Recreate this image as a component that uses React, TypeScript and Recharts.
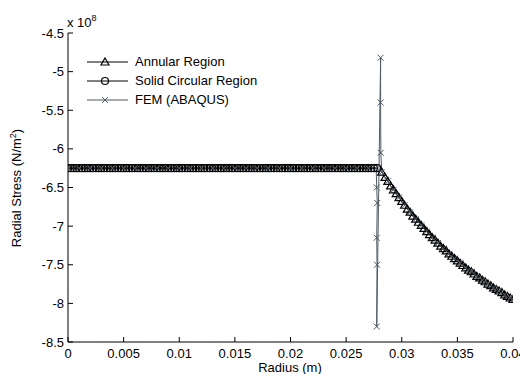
import { LineChart, Line, XAxis, YAxis, Legend } from 'recharts'

const FONT = '"Liberation Sans", Arial, sans-serif'

const X_TICKS = [0, 0.005, 0.01, 0.015, 0.02, 0.025, 0.03, 0.035, 0.04]
const X_TICK_LABELS = ['0', '0.005', '0.01', '0.015', '0.02', '0.025', '0.03', '0.035', '0.04']
const Y_TICKS = [-8.5, -8, -7.5, -7, -6.5, -6, -5.5, -5, -4.5]
const Y_TICK_LABELS = ['-8.5', '-8', '-7.5', '-7', '-6.5', '-6', '-5.5', '-5', '-4.5']

// stresses are in units of 1e8 N/m^2
const solidRadius = [
  0, 0.00025, 0.0005, 0.00075, 0.001, 0.00125, 0.0015, 0.00175, 0.002, 0.00225,
  0.0025, 0.00275, 0.003, 0.00325, 0.0035, 0.00375, 0.004, 0.00425, 0.0045, 0.00475,
  0.005, 0.00525, 0.0055, 0.00575, 0.006, 0.00625, 0.0065, 0.00675, 0.007, 0.00725,
  0.0075, 0.00775, 0.008, 0.00825, 0.0085, 0.00875, 0.009, 0.00925, 0.0095, 0.00975,
  0.01, 0.01025, 0.0105, 0.01075, 0.011, 0.01125, 0.0115, 0.01175, 0.012, 0.01225,
  0.0125, 0.01275, 0.013, 0.01325, 0.0135, 0.01375, 0.014, 0.01425, 0.0145, 0.01475,
  0.015, 0.01525, 0.0155, 0.01575, 0.016, 0.01625, 0.0165, 0.01675, 0.017, 0.01725,
  0.0175, 0.01775, 0.018, 0.01825, 0.0185, 0.01875, 0.019, 0.01925, 0.0195, 0.01975,
  0.02, 0.02025, 0.0205, 0.02075, 0.021, 0.02125, 0.0215, 0.02175, 0.022, 0.02225,
  0.0225, 0.02275, 0.023, 0.02325, 0.0235, 0.02375, 0.024, 0.02425, 0.0245, 0.02475,
  0.025, 0.02525, 0.0255, 0.02575, 0.026, 0.02625, 0.0265, 0.02675, 0.027, 0.02725,
  0.0275, 0.0278,
]
const solidStress = [
  -6.25, -6.25, -6.25, -6.25, -6.25, -6.25, -6.25, -6.25, -6.25, -6.25,
  -6.25, -6.25, -6.25, -6.25, -6.25, -6.25, -6.25, -6.25, -6.25, -6.25,
  -6.25, -6.25, -6.25, -6.25, -6.25, -6.25, -6.25, -6.25, -6.25, -6.25,
  -6.25, -6.25, -6.25, -6.25, -6.25, -6.25, -6.25, -6.25, -6.25, -6.25,
  -6.25, -6.25, -6.25, -6.25, -6.25, -6.25, -6.25, -6.25, -6.25, -6.25,
  -6.25, -6.25, -6.25, -6.25, -6.25, -6.25, -6.25, -6.25, -6.25, -6.25,
  -6.25, -6.25, -6.25, -6.25, -6.25, -6.25, -6.25, -6.25, -6.25, -6.25,
  -6.25, -6.25, -6.25, -6.25, -6.25, -6.25, -6.25, -6.25, -6.25, -6.25,
  -6.25, -6.25, -6.25, -6.25, -6.25, -6.25, -6.25, -6.25, -6.25, -6.25,
  -6.25, -6.25, -6.25, -6.25, -6.25, -6.25, -6.25, -6.25, -6.25, -6.25,
  -6.25, -6.25, -6.25, -6.25, -6.25, -6.25, -6.25, -6.25, -6.25, -6.25,
  -6.25, -6.25,
]

const annularRadius = [
  0.0282, 0.0285, 0.02875, 0.029, 0.02925, 0.0295, 0.02975, 0.03, 0.03025, 0.0305,
  0.03075, 0.031, 0.03125, 0.0315, 0.03175, 0.032, 0.03225, 0.0325, 0.03275, 0.033,
  0.03325, 0.0335, 0.03375, 0.034, 0.03425, 0.0345, 0.03475, 0.035, 0.03525, 0.0355,
  0.03575, 0.036, 0.03625, 0.0365, 0.03675, 0.037, 0.03725, 0.0375, 0.03775, 0.038,
  0.03825, 0.0385, 0.03875, 0.039, 0.03925, 0.0395, 0.03975, 0.04,
]
const annularStress = [
  -6.3, -6.37, -6.42, -6.48, -6.53, -6.58, -6.63, -6.68, -6.73, -6.78,
  -6.82, -6.87, -6.91, -6.95, -6.99, -7.03, -7.07, -7.11, -7.15, -7.18,
  -7.22, -7.26, -7.29, -7.32, -7.36, -7.39, -7.42, -7.45, -7.48, -7.51,
  -7.54, -7.57, -7.59, -7.62, -7.65, -7.67, -7.7, -7.72, -7.75, -7.77,
  -7.8, -7.82, -7.84, -7.86, -7.89, -7.91, -7.93, -7.95,
]

const femRadius = [
  0, 0.001, 0.002, 0.003, 0.004, 0.005, 0.006, 0.007, 0.008, 0.009, 0.01, 0.011, 0.012, 0.013,
  0.014, 0.015, 0.016, 0.017, 0.018, 0.019, 0.02, 0.021, 0.022, 0.023, 0.024, 0.025, 0.026, 0.027,
  0.0277, 0.02775, 0.0278, 0.02775, 0.02778, 0.02775, 0.0281, 0.0281, 0.02812, 0.0282,
  0.02875, 0.02925, 0.02975, 0.03025, 0.03075, 0.03125, 0.03175, 0.03225, 0.03275, 0.03325,
  0.03375, 0.03425, 0.03475, 0.03525, 0.03575, 0.03625, 0.03675, 0.03725, 0.03775, 0.03825,
  0.03875, 0.03925, 0.03975, 0.04,
]
const femStress = [
  -6.25, -6.25, -6.25, -6.25, -6.25, -6.25, -6.25, -6.25, -6.25, -6.25, -6.25, -6.25, -6.25, -6.25,
  -6.25, -6.25, -6.25, -6.25, -6.25, -6.25, -6.25, -6.25, -6.25, -6.25, -6.25, -6.25, -6.25, -6.25,
  -6.25, -6.5, -6.7, -7.15, -7.5, -8.3, -4.82, -5.4, -6.05, -6.3,
  -6.42, -6.53, -6.63, -6.73, -6.82, -6.91, -6.99, -7.07, -7.15, -7.22,
  -7.29, -7.36, -7.42, -7.48, -7.54, -7.59, -7.65, -7.7, -7.75, -7.8,
  -7.84, -7.89, -7.93, -7.95,
]

const SERIES_NAMES = ['Annular Region', 'Solid Circular Region', 'FEM (ABAQUS)']

const toRows = (rs: number[], ss: number[]) => rs.map((r, i) => ({ r, s: ss[i] }))
const annularData = toRows(annularRadius, annularStress)
const solidData = toRows(solidRadius, solidStress)
const femData = toRows(femRadius, femStress)

const FEM_COLOR = '#4f5a63'

const triangle = (cx: number, cy: number, k: string, c = '#000') => (
  <path key={k} d={`M${cx},${cy - 4}L${cx + 4},${cy + 3}L${cx - 4},${cy + 3}Z`} fill="none" stroke={c} strokeWidth={1.2} />
)
const circle = (cx: number, cy: number, k: string, c = '#000') => (
  <circle key={k} cx={cx} cy={cy} r={3.5} fill="none" stroke={c} strokeWidth={1.2} />
)
const cross = (cx: number, cy: number, k: string, c = FEM_COLOR) => (
  <path key={k} d={`M${cx - 3},${cy - 3}L${cx + 3},${cy + 3}M${cx - 3},${cy + 3}L${cx + 3},${cy - 3}`} stroke={c} strokeWidth={1} />
)
const markers = [triangle, circle, cross]

function BottomTick({ x, y, payload }: any) {
  const label = X_TICK_LABELS[X_TICKS.indexOf(payload.value)]
  return (
    <g>
      <line x1={x} x2={x} y1={y} y2={y - 5} stroke="#000" />
      <text x={x} y={y + 16} textAnchor="middle" fontSize={13} fill="#000" fontFamily={FONT}>{label}</text>
    </g>
  )
}

function TopTick({ x, y }: any) {
  return <line x1={x} x2={x} y1={y} y2={y + 5} stroke="#000" />
}

function LeftTick({ x, y, payload }: any) {
  const label = Y_TICK_LABELS[Y_TICKS.indexOf(payload.value)]
  return (
    <g>
      <line x1={x} x2={x + 5} y1={y} y2={y} stroke="#000" />
      <text x={x - 4} y={y + 4.5} textAnchor="end" fontSize={13} fill="#000" fontFamily={FONT}>{label}</text>
    </g>
  )
}

function RightTick({ x, y }: any) {
  return <line x1={x} x2={x - 5} y1={y} y2={y} stroke="#000" />
}

// legend rows in the series order of the original figure
function LegendBox() {
  return (
    <div style={{ fontFamily: FONT, fontSize: 13, color: '#000' }}>
      {SERIES_NAMES.map((name, i) => (
        <div key={name} style={{ display: 'flex', alignItems: 'center', height: 19 }}>
          <svg width={50} height={12}>
            <line x1={2} x2={43} y1={6} y2={6} stroke={i === 2 ? FEM_COLOR : '#000'} />
            {markers[i](20, 6, 'm')}
          </svg>
          <span>{name}</span>
        </div>
      ))}
    </div>
  )
}

// the wrapper cancels the body margin so the figure fills the 528x382 page exactly
export default function App() {
  return (
    <div style={{ position: 'relative', width: 528, height: 382, margin: -8, fontFamily: FONT, background: '#fff' }}>
      <LineChart width={528} height={382} margin={{ top: 33, right: 15, bottom: 0, left: 0 }}>
        <XAxis dataKey="r" type="number" domain={[0, 0.04]} ticks={X_TICKS} interval={0} height={40}
          tickSize={0} tickMargin={0} tickLine={false} tick={<BottomTick />} axisLine={{ stroke: '#000' }} allowDataOverflow />
        <XAxis xAxisId="top" orientation="top" dataKey="r" type="number" domain={[0, 0.04]} ticks={X_TICKS} interval={0} height={0}
          tickSize={0} tickMargin={0} tickLine={false} tick={<TopTick />} axisLine={{ stroke: '#000' }} allowDataOverflow />
        <YAxis type="number" domain={[-8.5, -4.5]} ticks={Y_TICKS} interval={0} width={68}
          tickSize={0} tickMargin={0} tickLine={false} tick={<LeftTick />} axisLine={{ stroke: '#000' }} allowDataOverflow />
        <YAxis yAxisId="right" orientation="right" type="number" domain={[-8.5, -4.5]} ticks={Y_TICKS} interval={0} width={0}
          tickSize={0} tickMargin={0} tickLine={false} tick={<RightTick />} axisLine={{ stroke: '#000' }} allowDataOverflow />
        <Legend layout="vertical" align="center" verticalAlign="middle" content={<LegendBox />}
          wrapperStyle={{ left: 85, top: 52, width: 'auto', height: 'auto' }} />
        <Line data={annularData} dataKey="s" name={SERIES_NAMES[0]} type="linear" stroke="#000" strokeWidth={1}
          dot={(p: any) => triangle(p.cx, p.cy, `a${p.index}`)} activeDot={false} isAnimationActive={false} />
        <Line data={solidData} dataKey="s" name={SERIES_NAMES[1]} xAxisId="top" yAxisId="right" type="linear" stroke="#000" strokeWidth={1}
          dot={(p: any) => circle(p.cx, p.cy, `s${p.index}`)} activeDot={false} isAnimationActive={false} />
        <Line data={femData} dataKey="s" name={SERIES_NAMES[2]} type="linear" stroke={FEM_COLOR} strokeWidth={1}
          dot={(p: any) => cross(p.cx, p.cy, `f${p.index}`)} activeDot={false} isAnimationActive={false} />
      </LineChart>
      <svg width={528} height={382} style={{ position: 'absolute', left: 0, top: 0, pointerEvents: 'none' }}>
        <text x={67} y={27} fontSize={13} fill="#000" fontFamily={FONT}>
          x 10<tspan dy={-6} fontSize={9}>8</tspan>
        </text>
        <text x={290} y={372} textAnchor="middle" fontSize={13} fill="#000" fontFamily={FONT}>Radius (m)</text>
        <text transform="translate(21,188) rotate(-90)" textAnchor="middle" fontSize={13} fill="#000" fontFamily={FONT}>
          Radial Stress (N/m<tspan dy={-5} fontSize={9}>2</tspan><tspan dy={5}>)</tspan>
        </text>
      </svg>
    </div>
  )
}
